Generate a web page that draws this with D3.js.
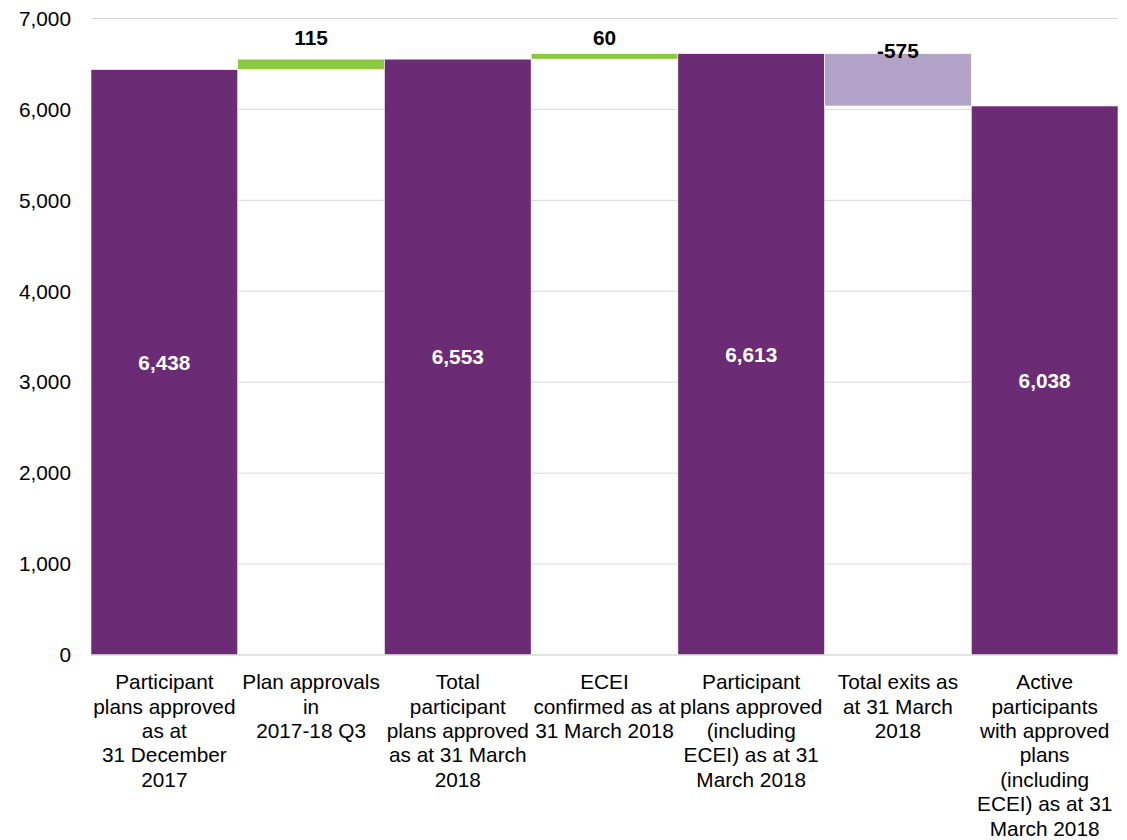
<!DOCTYPE html>
<html><head><meta charset="utf-8">
<script src="https://cdn.jsdelivr.net/npm/d3@7"></script>
<style>body{margin:0;background:#fff;font-family:"Liberation Sans",Arial,sans-serif}</style>
</head><body><svg id="c" width="1127" height="840"></svg>
<script>
const categories = [
  ["Participant","plans approved","as at","31 December","2017"],
  ["Plan approvals","in","2017-18 Q3"],
  ["Total","participant","plans approved","as at 31 March","2018"],
  ["ECEI","confirmed as at","31 March 2018"],
  ["Participant","plans approved","(including","ECEI) as at 31","March 2018"],
  ["Total exits as","at 31 March","2018"],
  ["Active","participants","with approved","plans","(including","ECEI) as at 31","March 2018"]
];
const values = [6438, 115, 6553, 60, 6613, -575, 6038];
const kinds = ["total","delta","total","delta","total","delta","total"];
const yTicks = [0,1000,2000,3000,4000,5000,6000,7000];

const svg = d3.select("#c");
const m = {left:91, right:9, top:18.5, bottom:185};
const W = 1127, H = 840;
const FS = 20.8;
const x = d3.scaleBand().domain(d3.range(values.length)).range([m.left, W - m.right]).padding(0);
const y = d3.scaleLinear().domain([0,7000]).range([H - m.bottom, m.top]);

// grid
svg.append("g").selectAll("line").data(yTicks.filter(d=>d>0)).join("line")
  .attr("x1", m.left).attr("x2", W - m.right)
  .attr("y1", d=>y(d)).attr("y2", d=>y(d))
  .attr("stroke","#d9d9d9").attr("stroke-width",1);

// y labels
svg.append("g").selectAll("text").data(yTicks).join("text")
  .attr("x", 71).attr("y", d=>y(d)).attr("dy","0.35em")
  .attr("text-anchor","end").attr("font-size",FS).attr("fill","#000")
  .text(d=>d3.format(",")(d));

// compute waterfall
let running = 0;
const bars = values.map((v,i)=>{
  let lo, hi;
  if (kinds[i]==="total") { lo = 0; hi = v; running = v; }
  else { const prev = running; running = prev + v; lo = Math.min(prev, running); hi = Math.max(prev, running); }
  return {i, v, kind:kinds[i], lo, hi};
});
const peak = d3.max(bars, d=>d.hi);

svg.append("g").selectAll("rect").data(bars).join("rect")
  .attr("x", d=>x(d.i)).attr("width", x.bandwidth())
  .attr("y", d=>y(d.hi)).attr("height", d=>y(d.lo)-y(d.hi))
  .attr("fill", d=> d.kind==="total" ? "#6b2c75" : (d.v>=0 ? "#8dc63f" : "#b3a2c7"))
  .attr("stroke","#fff").attr("stroke-width",0.6);

// baseline
svg.append("line").attr("x1", m.left).attr("x2", W - m.right)
  .attr("y1", y(0)).attr("y2", y(0)).attr("stroke","#d9d9d9").attr("stroke-width",1.5);

// value labels
svg.append("g").selectAll("text").data(bars).join("text")
  .attr("x", d=>x(d.i)+x.bandwidth()/2)
  .attr("y", d=> d.kind==="total" ? y(d.hi/2) : (d.v>=0 ? y(peak+180) : y(d.hi)-3))
  .attr("dy","0.35em").attr("text-anchor","middle")
  .attr("font-size",FS).attr("font-weight","bold")
  .attr("fill", d=> d.kind==="total" ? "#fff" : "#000")
  .text(d=>d3.format(",")(d.v).replace("−","-"));

// category labels
const cg = svg.append("g").selectAll("text").data(categories).join("text")
  .attr("text-anchor","middle").attr("font-size",FS).attr("fill","#000")
  .attr("transform",(d,i)=>`translate(${x(i)+x.bandwidth()/2},${y(0)+27})`);
cg.selectAll("tspan").data(d=>d).join("tspan")
  .attr("x",0).attr("y",(d,j)=>j*24.4).attr("dy","0.35em").text(d=>d);
</script></body></html>
